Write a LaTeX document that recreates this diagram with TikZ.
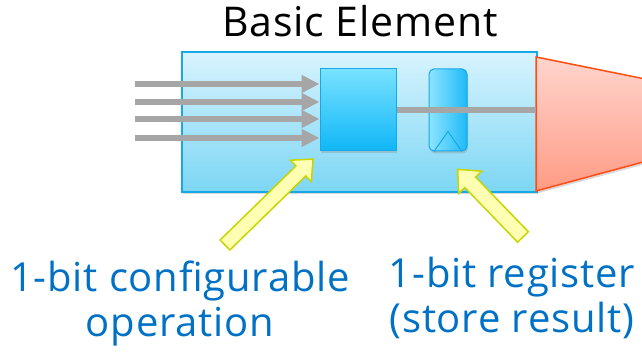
\documentclass[tikz,border=0pt]{standalone}
\usepackage{fontspec}
\setmainfont{Open Sans}[LetterSpace=2]
\usetikzlibrary{shadows,arrows.meta}

\definecolor{boxline}{HTML}{18A8E6}
\definecolor{boxtop}{HTML}{D8F4FE}
\definecolor{boxbot}{HTML}{7CD6F4}
\definecolor{optop}{HTML}{78E2FF}
\definecolor{opbot}{HTML}{10B6F7}
\definecolor{regleft}{HTML}{8CE4FF}
\definecolor{regright}{HTML}{1EBAF8}
\definecolor{wiregray}{HTML}{A6A6A6}
\definecolor{muxline}{HTML}{FF4D12}
\definecolor{muxtop}{HTML}{FFD5CD}
\definecolor{muxbot}{HTML}{FF9B85}
\definecolor{hintfill}{HTML}{FFFFB4}
\definecolor{hintline}{HTML}{C8D600}
\definecolor{labelblue}{HTML}{0071C5}

\tikzset{
  softshadow/.style={drop shadow={opacity=.3, shadow xshift=1pt, shadow yshift=-2.5pt}},
  elembox/.style={draw=boxline, line width=1.2pt, top color=boxtop, bottom color=boxbot,
    inner sep=0pt, minimum width=355pt, minimum height=140pt, softshadow},
  opbox/.style={draw=boxline, line width=1pt, top color=optop, bottom color=opbot,
    inner sep=0pt, minimum width=76pt, minimum height=82pt, softshadow},
  regbox/.style={draw=boxline, line width=1pt, left color=regleft, right color=regright,
    rounded corners=5pt, inner sep=0pt, minimum width=38pt, minimum height=82pt, softshadow},
  wire/.style={draw=wiregray, line width=6pt},
  inwire/.style={wire, -{Triangle[length=18pt,width=17pt]}},
  hint/.style={draw=hintline, fill=hintfill, line width=1.5pt, line join=miter},
  bluetext/.style={text=labelblue, font=\fontsize{40}{45}\selectfont, align=center}
}

\begin{document}
\begin{tikzpicture}[x=1pt,y=1pt]
  \useasboundingbox (0,0) rectangle (642,352);
  \clip (0,0) rectangle (642,352);

  % the element and what sits inside it
  \node[elembox] (elem) at (359.5,230) {};
  \node[opbox] (op) at (358,242) {};
  \node[regbox] (reg) at (448,242) {};
  \draw[boxline, line width=1pt] ([xshift=-14pt]reg.south) -- ([yshift=20pt]reg.south)
    -- ([xshift=14pt]reg.south);

  \node[font=\fontsize{41}{46}\selectfont, anchor=base] (title) at (360,315) {Basic Element};

  % output stage on the right
  \coordinate (mux-a) at (536,295);
  \coordinate (mux-b) at (536,161);
  \draw[muxline, line width=1.5pt, top color=muxtop, bottom color=muxbot, softshadow]
    (680,266) -- (mux-a) -- (mux-b) -- (680,200);

  % four inputs into the operation, one wire out
  \foreach \i/\y in {1/268, 2/250, 3/233, 4/214} {
    \coordinate (in\i) at (135,\y);
    \draw[inwire] (in\i) -- (in\i -| op.west);
  }
  \draw[wire] (op.east) -- (op.east -| mux-a);

  % pointers from the labels
  \coordinate (optail) at (225,107);
  \coordinate (regtail) at (523,115);
  \begin{scope}[shift={(optail)}, rotate=44.3]
    \draw[hint] (0,-7) -- (106,-7) -- (106,-15) -- (123,0) -- (106,15) -- (106,7) -- (0,7) -- cycle;
  \end{scope}
  \begin{scope}[shift={(regtail)}, rotate=134]
    \draw[hint] (0,-7.5) -- (76,-7.5) -- (76,-16) -- (94,0) -- (76,16) -- (76,7.5) -- (0,7.5) -- cycle;
  \end{scope}

  \node[bluetext] (oplabel) at (180,48) {1-bit configurable\\operation};
  \node[bluetext] (reglabel) at (512,54) {1-bit register\\(store result)};
\end{tikzpicture}
\end{document}
